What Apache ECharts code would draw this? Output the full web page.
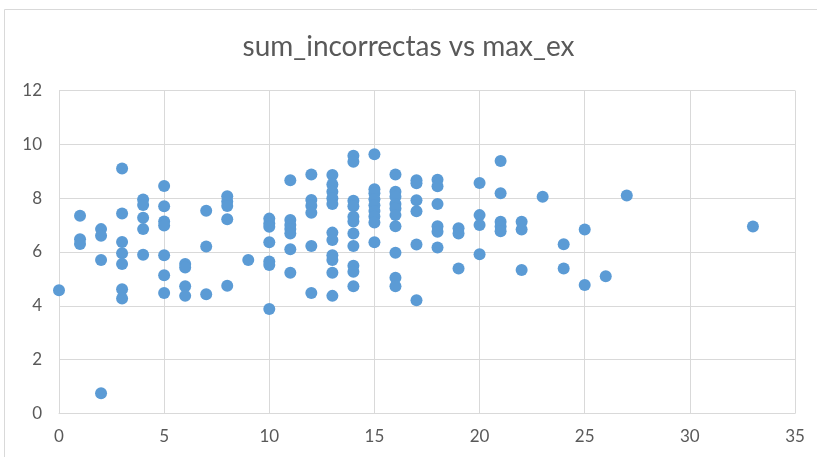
<!DOCTYPE html>
<html>
<head>
<meta charset="utf-8">
<script src="https://cdn.jsdelivr.net/npm/echarts@6/dist/echarts.min.js"></script>
<style>
  html, body { margin: 0; padding: 0; background: #fff; }
  #chart { width: 817px; height: 457px; }
</style>
</head>
<body>
<div id="chart"></div>
<script>
// max_ex values (x) and the sum_incorrectas values seen at each (y)
const maxEx = [0, 1, 2, 3, 4, 5, 6, 7, 8, 9, 10, 11, 12, 13, 14, 15, 16, 17, 18, 19, 20, 21, 22, 23, 24, 25, 26, 27, 33];
const sumIncorrectas = [
  [4.58],
  [7.35, 6.47, 6.3],
  [6.85, 6.6, 5.7, 0.75],
  [9.1, 7.43, 6.37, 5.95, 5.55, 4.62, 4.27],
  [7.95, 7.75, 7.27, 6.85, 5.9],
  [8.45, 7.7, 7.13, 6.98, 5.88, 5.14, 4.48],
  [5.55, 5.42, 4.73, 4.37],
  [7.53, 6.2, 4.43],
  [8.07, 7.88, 7.71, 7.22, 4.75],
  [5.7],
  [7.24, 7.06, 6.94, 6.36, 5.65, 5.52, 3.88],
  [8.67, 7.19, 7.0, 6.85, 6.69, 6.1, 5.23],
  [8.88, 7.93, 7.72, 7.46, 6.22, 4.48],
  [8.86, 8.51, 8.24, 8.0, 7.78, 6.72, 6.45, 5.88, 5.7, 5.23, 4.37],
  [9.58, 9.35, 7.9, 7.7, 7.31, 7.13, 6.69, 6.22, 5.49, 5.27, 4.73],
  [9.63, 8.33, 8.18, 7.96, 7.74, 7.52, 7.32, 7.1, 6.36],
  [8.88, 8.24, 8.05, 7.78, 7.62, 7.37, 6.96, 5.97, 5.04, 4.73],
  [8.67, 8.55, 7.92, 7.51, 6.28, 4.21],
  [8.68, 8.44, 7.78, 6.96, 6.75, 6.17],
  [6.88, 6.69, 5.39],
  [8.56, 7.37, 7.0, 5.92],
  [9.38, 8.18, 7.12, 6.95, 6.77],
  [7.12, 6.84, 5.33],
  [8.05],
  [6.29, 5.39],
  [6.84, 4.77],
  [5.1],
  [8.1],
  [6.95]
];
const xTicks = [0, 5, 10, 15, 20, 25, 30, 35];
const yTicks = [0, 2, 4, 6, 8, 10, 12];

const points = [];
maxEx.forEach((x, i) => sumIncorrectas[i].forEach(y => points.push([x, y])));

const chart = echarts.init(document.getElementById('chart'));
chart.setOption({
  animation: false,
  graphic: [{
    type: 'rect',
    shape: { x: 4.5, y: 9.5, width: 830, height: 470 },
    style: { fill: 'none', stroke: '#d9d9d9', lineWidth: 1 },
    silent: true
  }],
  title: {
    text: 'sum_incorrectas vs max_ex',
    left: 'center',
    top: 28,
    textStyle: { fontFamily: 'Lato', fontSize: 28, fontWeight: 'normal', color: '#595959' }
  },
  grid: { left: 59, right: 22, top: 90.5, bottom: 43.5, containLabel: false },
  xAxis: {
    type: 'value',
    min: xTicks[0],
    max: xTicks[xTicks.length - 1],
    interval: 5,
    axisLine: { show: true, lineStyle: { color: '#d9d9d9', width: 1 } },
    axisTick: { show: false },
    axisLabel: { margin: 15, color: '#595959', fontFamily: 'Lato', fontSize: 17 },
    splitLine: { show: true, lineStyle: { color: '#d9d9d9', width: 1 } }
  },
  yAxis: {
    type: 'value',
    min: yTicks[0],
    max: yTicks[yTicks.length - 1],
    interval: 2,
    axisLine: { show: true, lineStyle: { color: '#d9d9d9', width: 1 } },
    axisTick: { show: false },
    axisLabel: { margin: 17, color: '#595959', fontFamily: 'Lato', fontSize: 17 },
    splitLine: { show: true, lineStyle: { color: '#d9d9d9', width: 1 } }
  },
  series: [{
    name: 'sum_incorrectas',
    type: 'scatter',
    data: points,
    symbol: 'circle',
    symbolSize: 12,
    itemStyle: { color: '#5b9bd5', opacity: 1 }
  }]
});
</script>
</body>
</html>
